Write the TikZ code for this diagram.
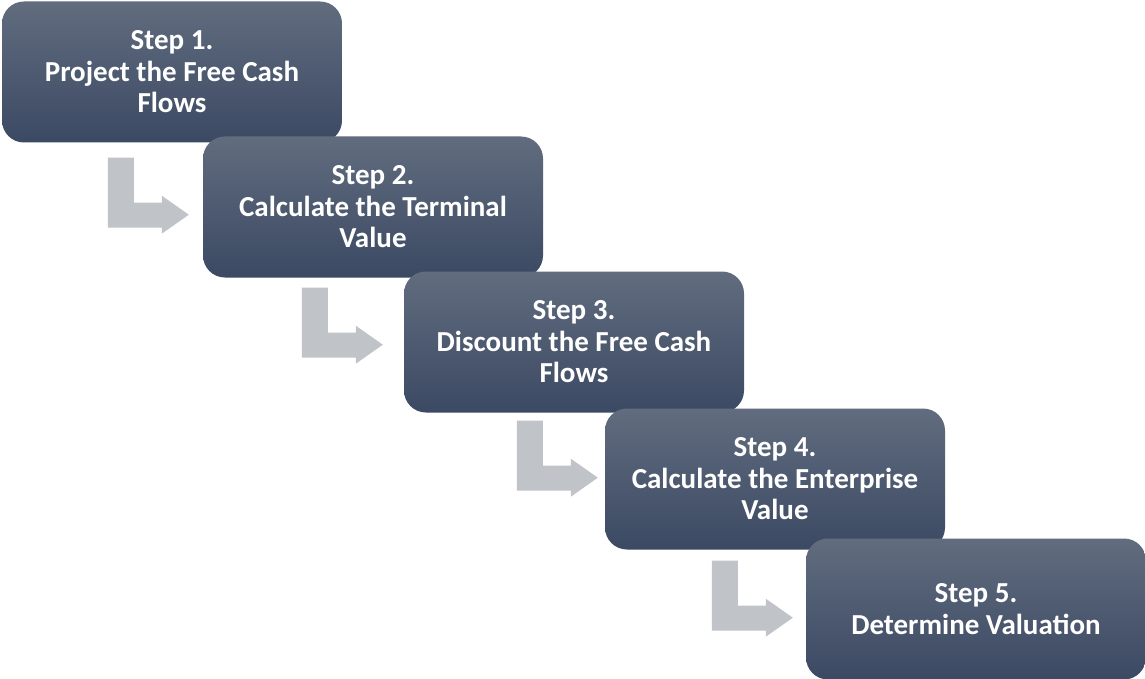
\documentclass[tikz,border=0pt]{standalone}
\usepackage{fontspec}
\setmainfont{Carlito}
\usetikzlibrary{calc}
\definecolor{boxtop}{HTML}{616C7E}
\definecolor{boxbottom}{HTML}{3B4963}
\definecolor{arrowgrey}{HTML}{C0C3C7}
\tikzset{
  stepbox/.style={rounded corners=22pt, minimum width=340pt, minimum height=141pt,
    top color=boxtop, bottom color=boxbottom, draw=none, text=white,
    align=center, font=\fontsize{29}{31.5}\selectfont\bfseries, inner sep=0pt},
  flowarrow/.style={fill=arrowgrey, draw=none}
}
% bent (down, then right) block arrow starting at the given point
\newcommand{\bentarrow}[1]{%
  \fill[flowarrow] #1 -- ++(26,0) -- ++(0,45) -- ++(28,0) -- ++(0,-7)
    -- ++(27,19) -- ++(-27,19) -- ++(0,-6) -- ++(-54,0) -- cycle;}
\begin{document}
\begin{tikzpicture}[x=1pt,y=-1pt]
  \useasboundingbox (0,0) rectangle (1145,679);
  \fill[white] (0,0) rectangle (1145,679);

  \node[stepbox] (s1) at (172,72)  {Step 1.\\Project the Free Cash\\Flows};
  \node[stepbox] (s2) at (373,207) {Step 2.\\Calculate the Terminal\\Value};
  \node[stepbox] (s3) at (574,342) {Step 3.\\Discount the Free Cash\\Flows};
  \node[stepbox] (s4) at (775,479) {Step 4.\\Calculate the Enterprise\\Value};
  \node[stepbox] (s5) at (976,609) {Step 5.\\Determine Valuation};

  \bentarrow{($(s1.south west)+(106,15)$)}
  \bentarrow{($(s2.south west)+(99,10)$)}
  \bentarrow{($(s3.south west)+(113,8)$)}
  \bentarrow{($(s4.south west)+(107,11)$)}
\end{tikzpicture}
\end{document}
